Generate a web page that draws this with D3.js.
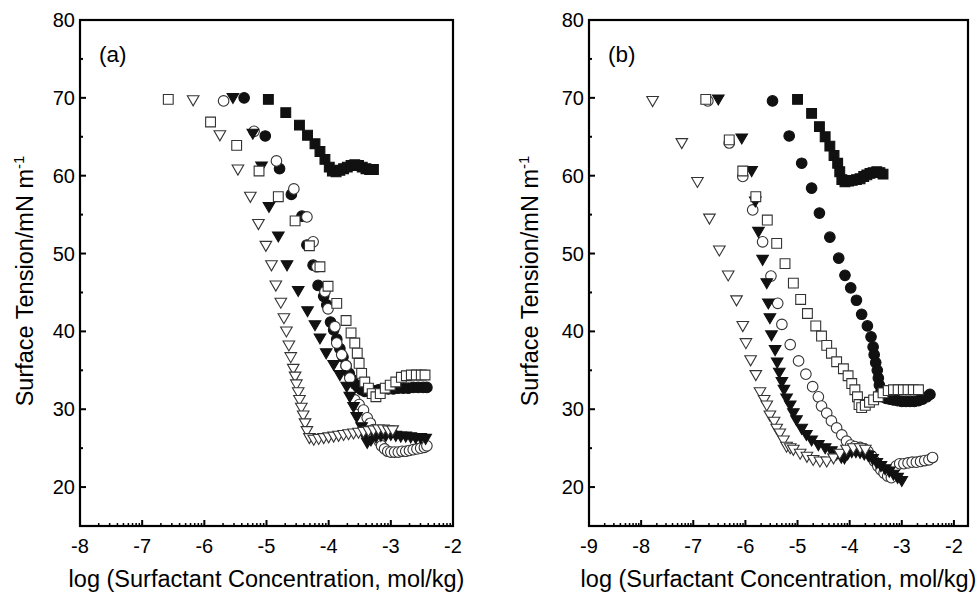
<!DOCTYPE html>
<meta charset="utf-8">
<script src="https://cdn.jsdelivr.net/npm/d3@7"></script>
<style>
  body { margin: 0; background: #fff; }
  text { font-family: "Liberation Sans", Arial, sans-serif; fill: #000; }
</style>
<div id="my_dataviz"></div>
<script>

// ---- tick labels ----
var yTicks = [20, 30, 40, 50, 60, 70, 80];
var yMinorTicks = [25, 35, 45, 55, 65, 75];
var xTicksA = [-8, -7, -6, -5, -4, -3, -2];
var xTicksB = [-9, -8, -7, -6, -5, -4, -3, -2];

// ---- panel (a) ----
var aFilledSquareX = [-4.97,-4.69,-4.47,-4.34,-4.22,-4.14,-4.06,-3.99,-3.94,-3.88,-3.82,-3.76,-3.70,-3.64,-3.58,-3.52,-3.46,-3.40,-3.34,-3.28];
var aFilledSquareY = [69.8,68.1,66.5,65.2,64.1,63.1,62.1,61.1,60.6,60.5,60.7,60.9,61.1,61.3,61.4,61.3,61.1,60.9,60.8,60.8];

var aFilledCircleX = [-5.36,-5.02,-4.79,-4.60,-4.43,-4.35,-4.25,-4.17,-4.08,-4.03,-3.97,-3.92,-3.87,-3.82,-3.77,-3.72,-3.67,-3.62,-3.57,-3.52,-3.47,-3.42,-3.35,-3.28,-3.20,-3.12,-3.04,-2.96,-2.88,-2.80,-2.72,-2.64,-2.56,-2.48,-2.42];
var aFilledCircleY = [70.0,65.1,60.9,57.6,54.8,51.1,48.5,45.9,44.5,43.4,41.2,40.2,39.0,37.8,36.7,35.6,34.6,33.8,33.2,32.8,32.5,32.3,32.3,32.4,32.5,32.6,32.6,32.6,32.7,32.7,32.7,32.8,32.8,32.8,32.8];

var aOpenCircleX = [-5.69,-5.20,-4.84,-4.56,-4.35,-4.25,-4.19,-4.06,-4.01,-3.90,-3.87,-3.79,-3.72,-3.66,-3.58,-3.51,-3.44,-3.38,-3.33,-3.28,-3.23,-3.19,-3.15,-3.10,-3.05,-3.00,-2.94,-2.88,-2.82,-2.76,-2.70,-2.64,-2.58,-2.52,-2.46,-2.42];
var aOpenCircleY = [69.6,65.7,61.9,58.3,54.7,51.5,48.3,45.1,42.9,40.6,38.5,37.0,35.6,34.0,31.2,30.6,29.9,28.9,28.2,27.4,26.6,25.9,25.3,24.9,24.6,24.5,24.5,24.5,24.6,24.6,24.7,24.8,24.9,25.0,25.1,25.3];

var aFilledTriX = [-5.54,-5.22,-5.08,-4.96,-4.81,-4.67,-4.49,-4.34,-4.22,-4.14,-4.04,-3.92,-3.82,-3.71,-3.66,-3.60,-3.55,-3.47,-3.42,-3.38,-3.32,-3.24,-3.16,-3.08,-3.00,-2.92,-2.84,-2.76,-2.68,-2.60,-2.52,-2.44];
var aFilledTriY = [70.0,65.4,61.2,56.0,52.2,48.5,45.2,42.6,40.8,39.1,37.2,35.7,34.4,32.9,31.6,30.3,29.0,27.7,26.5,25.7,26.0,26.4,26.6,26.6,26.7,26.6,26.5,26.5,26.4,26.3,26.3,26.2];

var aOpenSquareX = [-6.58,-5.90,-5.48,-5.12,-4.81,-4.54,-4.31,-4.14,-4.01,-3.87,-3.72,-3.64,-3.58,-3.54,-3.51,-3.47,-3.42,-3.36,-3.30,-3.24,-3.17,-3.09,-3.01,-2.92,-2.83,-2.75,-2.67,-2.59,-2.51,-2.45];
var aOpenSquareY = [69.8,66.9,63.9,60.6,57.3,54.2,51.0,48.3,45.8,43.6,41.4,39.8,38.5,37.2,35.9,34.6,33.5,32.7,32.0,31.6,32.0,32.7,33.1,33.5,34.1,34.3,34.4,34.4,34.4,34.4];

var aOpenTriX = [-6.18,-5.75,-5.46,-5.26,-5.13,-5.01,-4.92,-4.85,-4.77,-4.72,-4.68,-4.64,-4.61,-4.57,-4.54,-4.52,-4.49,-4.47,-4.44,-4.41,-4.38,-4.35,-4.31,-4.24,-4.16,-4.08,-4.00,-3.92,-3.84,-3.76,-3.68,-3.60,-3.52,-3.44,-3.36,-3.28,-3.20,-3.12,-3.04,-2.97];
var aOpenTriY = [69.7,65.2,60.8,57.3,53.8,51.0,48.5,45.9,43.7,41.7,40.0,38.2,36.7,35.2,34.2,33.2,32.2,31.2,30.2,29.2,28.2,27.2,26.3,26.1,26.2,26.3,26.4,26.5,26.6,26.7,26.8,26.9,27.0,27.1,27.2,27.3,27.4,27.4,27.3,27.3];

// ---- panel (b) ----
var bFilledSquareX = [-5.00,-4.73,-4.58,-4.47,-4.38,-4.30,-4.23,-4.19,-4.15,-4.09,-4.02,-3.95,-3.87,-3.80,-3.73,-3.67,-3.61,-3.55,-3.48,-3.42,-3.36];
var bFilledSquareY = [69.8,68.0,66.3,65.0,63.8,62.6,61.6,60.5,59.5,59.2,59.3,59.4,59.5,59.6,59.9,60.1,60.3,60.4,60.5,60.4,60.2];

var bFilledCircleX = [-5.48,-5.16,-4.92,-4.73,-4.58,-4.38,-4.21,-4.09,-3.98,-3.87,-3.77,-3.66,-3.59,-3.55,-3.53,-3.50,-3.47,-3.45,-3.43,-3.40,-3.36,-3.30,-3.23,-3.16,-3.08,-3.00,-2.92,-2.84,-2.76,-2.68,-2.60,-2.52,-2.46];
var bFilledCircleY = [69.6,65.1,61.6,58.4,55.2,52.1,49.4,47.2,45.6,44.0,42.2,40.7,39.3,38.0,37.0,36.0,35.0,34.0,33.1,32.2,31.6,31.4,31.3,31.2,31.1,31.0,31.0,31.0,31.0,31.1,31.3,31.6,31.9];

var bOpenCircleX = [-6.72,-6.31,-6.05,-5.86,-5.67,-5.51,-5.38,-5.30,-5.14,-4.98,-4.84,-4.71,-4.60,-4.54,-4.44,-4.35,-4.25,-4.15,-4.06,-3.98,-3.90,-3.80,-3.72,-3.65,-3.58,-3.52,-3.46,-3.40,-3.34,-3.27,-3.20,-3.11,-3.04,-2.96,-2.88,-2.80,-2.72,-2.64,-2.56,-2.48,-2.41];
var bOpenCircleY = [69.6,64.2,59.9,55.6,51.5,47.1,43.6,40.9,38.3,36.2,34.5,32.9,31.6,30.4,29.5,28.5,27.6,26.7,25.9,25.4,25.2,25.1,24.9,24.6,24.0,23.3,22.7,22.2,21.8,21.4,21.2,22.7,23.0,23.0,23.1,23.2,23.2,23.3,23.4,23.5,23.8];

var bFilledTriX = [-6.52,-6.07,-5.88,-5.81,-5.75,-5.67,-5.59,-5.56,-5.53,-5.50,-5.43,-5.39,-5.35,-5.30,-5.26,-5.21,-5.14,-5.08,-5.02,-4.92,-4.83,-4.73,-4.60,-4.47,-4.35,-4.25,-4.16,-4.10,-4.04,-3.96,-3.88,-3.80,-3.72,-3.64,-3.56,-3.48,-3.40,-3.32,-3.24,-3.16,-3.08,-3.00];
var bFilledTriY = [69.8,64.8,60.6,56.7,52.8,49.2,46.2,43.6,41.7,39.5,37.6,36.0,34.7,33.5,32.5,31.4,30.5,29.5,28.6,27.5,26.7,26.0,25.4,25.0,24.6,24.2,23.8,23.7,24.2,24.5,24.5,24.4,24.2,24.0,23.6,23.1,22.7,22.3,22.0,21.6,21.2,20.8];

var bOpenSquareX = [-6.76,-6.31,-6.05,-5.80,-5.58,-5.40,-5.24,-5.08,-4.94,-4.81,-4.65,-4.54,-4.44,-4.35,-4.25,-4.12,-4.03,-3.96,-3.90,-3.85,-3.82,-3.77,-3.70,-3.62,-3.54,-3.45,-3.36,-3.26,-3.16,-3.07,-2.97,-2.88,-2.78,-2.68];
var bOpenSquareY = [69.8,64.6,60.6,57.3,54.3,51.3,48.7,46.2,44.1,42.3,40.7,39.4,38.2,37.2,36.1,35.2,34.3,33.3,32.5,31.6,30.6,30.2,30.5,30.9,31.2,31.6,32.1,32.4,32.5,32.5,32.5,32.5,32.5,32.5];

var bOpenTriX = [-7.78,-7.22,-6.92,-6.69,-6.50,-6.33,-6.17,-6.05,-5.99,-5.90,-5.80,-5.72,-5.64,-5.59,-5.53,-5.45,-5.40,-5.34,-5.27,-5.21,-5.14,-5.08,-4.95,-4.82,-4.70,-4.57,-4.44,-4.31,-4.19,-4.06,-3.93,-3.80,-3.70];
var bOpenTriY = [69.6,64.2,59.2,54.5,50.4,47.2,44.0,40.7,38.5,36.3,34.4,32.2,31.2,30.5,29.2,28.4,27.5,26.9,26.0,25.2,25.0,24.8,24.3,23.9,23.5,23.3,23.3,23.7,24.3,24.8,25.0,25.0,24.8];

var svg = d3.select("#my_dataviz")
  .append("svg")
    .attr("width", 980)
    .attr("height", 592);

// marker shapes
var squarePath = d3.symbol().type(d3.symbolSquare).size(96)();
var circlePath = d3.symbol().type(d3.symbolCircle).size(88)();
var triDownPath = "M-5.8,-4.4L5.8,-4.4L0,5.6Z";

function zip(xs, ys) {
  return xs.map(function(v, i) { return {x: v, y: ys[i]}; });
}

function drawPanel(o) {
  var x = d3.scaleLinear().domain(o.xDomain).range([o.left, o.right]);
  var y = d3.scaleLinear().domain([15, 80]).range([526, 20]);
  var g = svg.append("g");

  // y ticks (inside)
  g.selectAll(".ymaj").data(yTicks).enter().append("line")
    .attr("x1", o.left).attr("x2", o.left + 6)
    .attr("y1", function(d) { return y(d); }).attr("y2", function(d) { return y(d); })
    .attr("stroke", "#000").attr("stroke-width", 2);
  g.selectAll(".ymin").data(yMinorTicks).enter().append("line")
    .attr("x1", o.left).attr("x2", o.left + 3)
    .attr("y1", function(d) { return y(d); }).attr("y2", function(d) { return y(d); })
    .attr("stroke", "#000").attr("stroke-width", 2);
  g.selectAll(".ylab").data(yTicks).enter().append("text")
    .attr("x", o.left - 5)
    .attr("y", function(d) { return y(d) + 7; })
    .attr("text-anchor", "end")
    .style("font-size", "20px")
    .text(function(d) { return d; });

  // x ticks: major and log minor ticks
  var minor = [];
  for (var dec = Math.floor(o.xDomain[0]); dec < o.xDomain[1]; dec++) {
    for (var k = 2; k <= 9; k++) {
      var v = dec + Math.log10(k);
      if (v > o.xDomain[0] && v < o.xDomain[1]) minor.push(v);
    }
  }
  g.selectAll(".xmaj").data(o.xTicks).enter().append("line")
    .attr("x1", function(d) { return x(d); }).attr("x2", function(d) { return x(d); })
    .attr("y1", 526).attr("y2", 520)
    .attr("stroke", "#000").attr("stroke-width", 2);
  g.selectAll(".xmin").data(minor).enter().append("line")
    .attr("x1", function(d) { return x(d); }).attr("x2", function(d) { return x(d); })
    .attr("y1", 526).attr("y2", 523)
    .attr("stroke", "#000").attr("stroke-width", 1.5);
  g.selectAll(".xlab").data(o.xTicks).enter().append("text")
    .attr("x", function(d) { return x(d); })
    .attr("y", 553)
    .attr("text-anchor", "middle")
    .style("font-size", "20px")
    .text(function(d) { return d; });

  // points
  o.series.forEach(function(s) {
    var path = s.shape == "square" ? squarePath : (s.shape == "circle" ? circlePath : triDownPath);
    g.selectAll(null).data(zip(s.x, s.y)).enter().append("path")
      .attr("d", path)
      .attr("transform", function(d) { return "translate(" + x(d.x) + "," + y(d.y) + ")"; })
      .attr("fill", s.filled ? "#111" : "#fff")
      .attr("stroke", s.filled ? "#111" : "#333")
      .attr("stroke-width", 1.1);
  });

  // frame
  g.append("rect")
    .attr("x", o.left).attr("y", 20)
    .attr("width", o.right - o.left).attr("height", 506)
    .attr("fill", "none").attr("stroke", "#000").attr("stroke-width", 2.2);

  // panel letter
  g.append("text")
    .attr("x", o.left + 19).attr("y", 62)
    .style("font-size", "22.5px")
    .text(o.letter);

  // axis titles
  g.append("text")
    .attr("x", (o.left + o.right) / 2).attr("y", 587)
    .attr("text-anchor", "middle")
    .style("font-size", "23.5px")
    .text("log (Surfactant Concentration, mol/kg)");

  var yt = g.append("text")
    .attr("transform", "translate(" + o.titleX + ",281) rotate(-90)")
    .attr("text-anchor", "middle")
    .style("font-size", "23.5px");
  yt.append("tspan").text("Surface Tension/mN m");
  yt.append("tspan").attr("dy", -9).style("font-size", "15px").text("-1");
}

drawPanel({
  left: 80, right: 453, xDomain: [-8, -2], xTicks: xTicksA, letter: "(a)", titleX: 33,
  series: [
    {x: aFilledSquareX, y: aFilledSquareY, shape: "square", filled: true},
    {x: aFilledCircleX, y: aFilledCircleY, shape: "circle", filled: true},
    {x: aOpenCircleX, y: aOpenCircleY, shape: "circle", filled: false},
    {x: aFilledTriX, y: aFilledTriY, shape: "tri", filled: true},
    {x: aOpenSquareX, y: aOpenSquareY, shape: "square", filled: false},
    {x: aOpenTriX, y: aOpenTriY, shape: "tri", filled: false}
  ]
});

drawPanel({
  left: 589, right: 968, xDomain: [-9, -1.73], xTicks: xTicksB, letter: "(b)", titleX: 538,
  series: [
    {x: bFilledSquareX, y: bFilledSquareY, shape: "square", filled: true},
    {x: bFilledCircleX, y: bFilledCircleY, shape: "circle", filled: true},
    {x: bOpenCircleX, y: bOpenCircleY, shape: "circle", filled: false},
    {x: bFilledTriX, y: bFilledTriY, shape: "tri", filled: true},
    {x: bOpenSquareX, y: bOpenSquareY, shape: "square", filled: false},
    {x: bOpenTriX, y: bOpenTriY, shape: "tri", filled: false}
  ]
});

</script>
